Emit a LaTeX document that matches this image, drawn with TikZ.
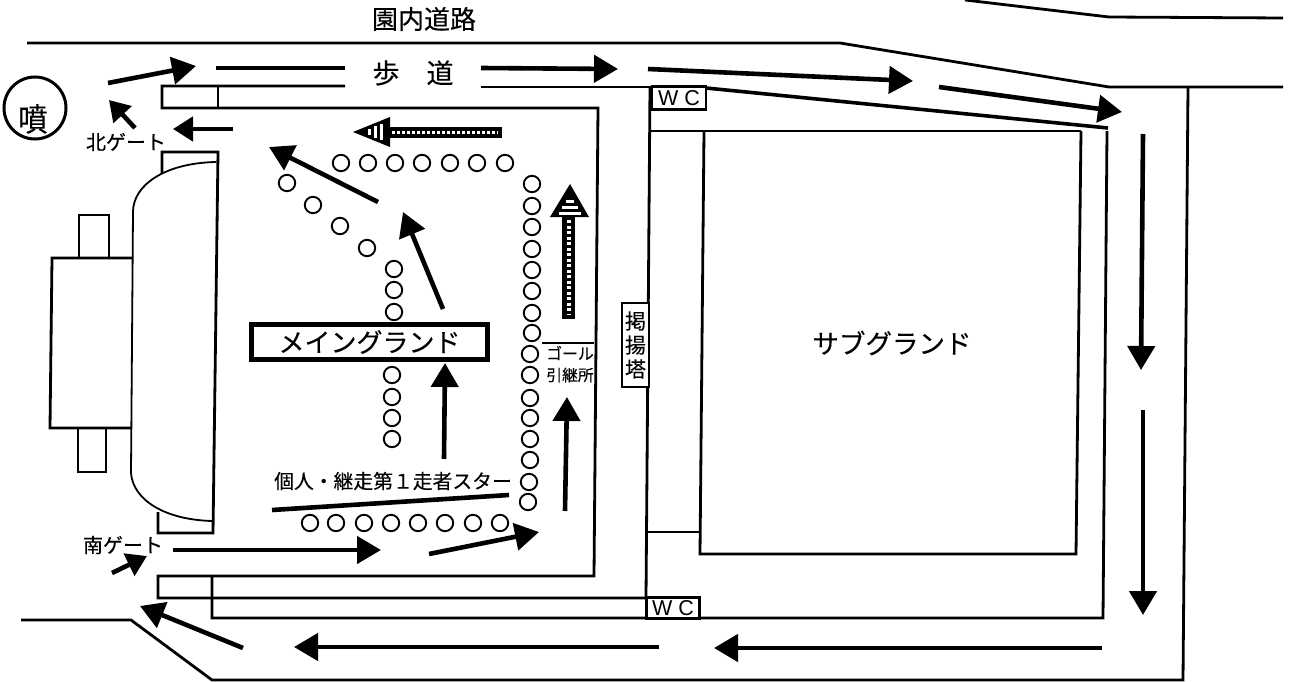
\documentclass[tikz,border=0pt]{standalone}
\usepackage{fontspec}
\setmainfont[FakeBold=0.25]{Noto Sans CJK JP}
\newfontfamily\wcfont{Liberation Sans}
\usetikzlibrary{arrows.meta}
\tikzset{
  plan/.style={line width=2.8pt,line join=miter},
  thin plan/.style={line width=1.8pt},
  flow/.style={line width=4.6pt,-{Triangle[length=24pt,width=27pt]}},
  flow small/.style={line width=4.6pt,-{Triangle[length=20pt,width=24pt]}},
  bar/.style={line width=4.6pt},
  marker/.style={line width=1.9pt},
  label/.style={inner sep=0pt,text=black},
}
\begin{document}
\begin{tikzpicture}[x=1pt,y=-1pt]
\useasboundingbox[fill=white] (0,0) rectangle (1293,682);
% roads
\draw[plan] (27,43) -- (840,43) -- (1109,87) -- (1283,87);
\draw[plan] (965,0) -- (1109,17) -- (1283,18);
\draw[plan] (21,620) -- (131,620) -- (212,680) -- (1183,680) -- (1188,87);
% upper sidewalk edge
\draw[plan] (345,86) -- (162,86) -- (162,108) -- (598,108) -- (594,576) -- (158,576) -- (158,598) -- (700,598);
\draw[plan] (218,86) -- (218,108);
\draw[plan] (481,87) -- (652,87);
\draw[plan] (650,87) -- (646,598);
\draw[plan,line width=3.6pt] (706,88) -- (1108,128);
\draw[plan] (650,131) -- (1081,131);
\draw[plan] (704,131) -- (700,554) -- (1076,554) -- (1081,131);
\draw[plan] (646,532) -- (700,532);
\draw[plan] (212,576) -- (212,618) -- (1103,618) -- (1107,131);
% WC boxes
\node[draw,line width=2.6pt,fill=white,minimum width=54pt,minimum height=23pt,inner sep=0pt,font=\wcfont\fontsize{21.5}{21.5}\selectfont] (wctop) at (679,98) {W C};
\node[draw,line width=2.6pt,fill=white,minimum width=53pt,minimum height=21pt,inner sep=0pt,font=\wcfont\fontsize{21.5}{21.5}\selectfont] (wcbot) at (673,608) {W C};
% stand
\draw[plan] (162,173) -- (162,152) -- (218,152) -- (213,533) -- (158,533) -- (158,512);
\draw[thin plan] (216,162) .. controls (165,163) and (133,185) .. (133,212) -- (131,473) .. controls (133,500) and (165,520) .. (213,521);
\draw[plan] (133,258) -- (52,258) -- (50,428) -- (132,428);
\draw[plan] (79,258) -- (79,215) -- (109,215) -- (109,258);
\draw[plan] (78,428) -- (78,472) -- (106,472) -- (106,428);
% fountain
\node[draw,circle,line width=3pt,minimum size=62pt,inner sep=0pt] (fountain) at (35,108) {};
\node[label,font=\fontsize{32}{32}\selectfont,xscale=0.92] (funt) at (33,119) {噴};
% labels
\node[label,font=\fontsize{26}{26}\selectfont] (road) at (424,19) {園内道路};
\node[label,font=\fontsize{27}{27}\selectfont] (walk) at (413,73) {歩　道};
\node[label,font=\fontsize{20}{20}\selectfont] (north) at (126,142) {北ゲート};
\node[label,font=\fontsize{20}{20}\selectfont] (south) at (123,545) {南ゲート};
\node[draw,line width=4.4pt,minimum width=236pt,minimum height=35pt,inner sep=0pt,font=\fontsize{26}{26}\selectfont] (main) at (369.5,342) {メイングランド};
\node[label,font=\fontsize{26.5}{26.5}\selectfont] (sub) at (892,343) {サブグランド};
\node[label,font=\fontsize{19.8}{19.8}\selectfont] (start) at (393,481) {個人・継走第１走者スター};
\node[label,font=\fontsize{15.8}{15.8}\selectfont] (goal) at (570,353) {ゴール};
\node[label,font=\fontsize{15.8}{15.8}\selectfont] (relay) at (570,375) {引継所};
\draw[plan] (542,343) -- (594,343);
\node[draw,line width=2.6pt,fill=white,minimum width=27pt,minimum height=84pt,inner sep=0pt,align=center,font=\fontsize{21}{24}\selectfont] (tower) at (635.5,345) {掲\\揚\\塔};
% start line and sidewalk bar
\draw[bar] (272,510) -- (509,495);
\draw[bar] (216,68) -- (345,68);
% flow arrows
\draw[flow] (108,83) -- (196,66);
\draw[flow] (481,68) -- (618,69);
\draw[flow] (648,69) -- (913,81);
\draw[flow] (939,87) -- (1122,112);
\draw[flow] (1143,134) -- (1141,370);
\draw[flow] (1143,410) -- (1143,615);
\draw[flow] (1102,648) -- (714,648);
\draw[flow] (659,647) -- (294,647);
\draw[flow] (243,648) -- (140,606);
\draw[flow small] (112,573) -- (147,556);
\draw[flow] (173,550) -- (381,550);
\draw[flow] (429,554) -- (539,532);
\draw[flow] (565,511) -- (567,397);
\draw[flow] (444,459) -- (445,363);
\draw[flow] (443,309) -- (403,212);
\draw[flow] (378,202) -- (269,147);
\draw[flow small] (233,129) -- (173,129);
\draw[flow small] (135,128) -- (109,100);
% hatched arrow, left
\fill (386,127) rectangle (502,138);
\draw[white,line width=3pt,dash pattern=on 3pt off 2pt] (392,132.5) -- (498,132.5);
\fill (353,132) -- (390,117) -- (390,147) -- cycle;
\foreach \x in {369,375,381} \draw[white,line width=3pt] (\x,{132-(\x-360)*0.38}) -- (\x,{132+(\x-360)*0.38});
% hatched arrow, up
\fill (562,216) rectangle (575,319);
\draw[white,line width=4pt,dash pattern=on 3pt off 2.5pt] (568.5,220) -- (568.5,315);
\fill (570,184) -- (589,217) -- (550,217) -- cycle;
\foreach \y in {202,208.5,214} \draw[white,line width=3pt] ({570-(\y-194)*0.56},{\y-1}) -- ({570+(\y-194)*0.56},{\y-1});
% markers
\foreach \x/\y in {341/163,368/163,395/163,422/163,450/163,477/163,505/163,
  287/183,313/205,340/226,367/248,394/269,394/290,394/312,
  392/375,392/397,392/418,392/439,
  532/184,532/206,532/227,532/249,532/270,532/291,532/313,532/333,
  530/354,530/375,530/398,530/418,530/439,530/460,529/482,528/502,
  310/523,336/523,364/523,391/523,418/523,445/523,473/523,500/523}
  \draw[marker] (\x,\y) ellipse [x radius=8.2pt,y radius=8.2pt];
\end{tikzpicture}
\end{document}
